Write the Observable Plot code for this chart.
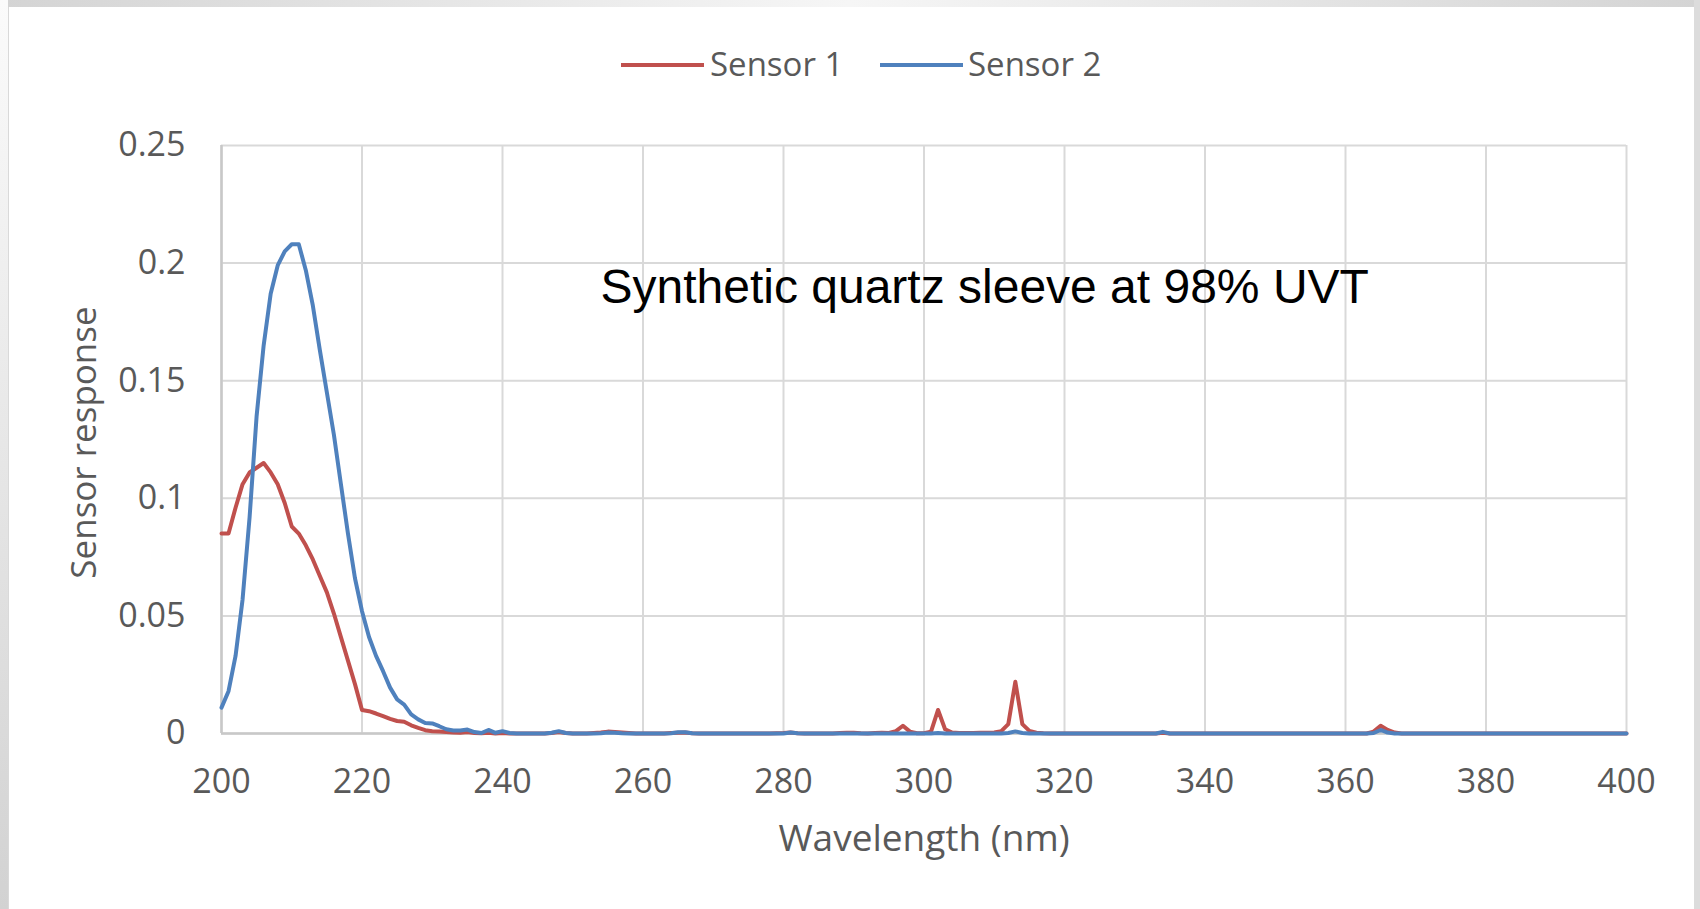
<!DOCTYPE html>
<html>
<head>
<meta charset="utf-8">
<script src="https://cdn.jsdelivr.net/npm/d3@7"></script>
<script src="https://cdn.jsdelivr.net/npm/@observablehq/plot@0.6"></script>
<style>
  html, body { margin: 0; padding: 0; background: #ffffff; }
  body { width: 1700px; height: 909px; overflow: hidden; position: relative; font-family: "Open Sans", sans-serif; }
  #legend { position: relative; height: 110px; }
  .sw { position: absolute; height: 4px; width: 83px; top: 63px; }
  .lt { position: absolute; top: 46.5px; font-size: 33px; line-height: 33px; color: #595959; white-space: nowrap; }
  .frame { position: absolute; pointer-events: none; }
</style>
</head>
<body>
<div id="legend"></div>
<div id="chart"></div>
<div class="frame" style="left:0;top:0;width:1700px;height:7px;background:linear-gradient(to right,#d4d4d4,#f6f6f6 50%,#d4d4d4);"></div>
<div class="frame" style="left:0;top:0;width:8px;height:909px;background:linear-gradient(to bottom,#fbfbfb,#d2d2d2);"></div>
<div class="frame" style="left:8px;top:7px;width:1px;height:902px;background:#d9d9d9;"></div>
<div class="frame" style="left:1694px;top:0;width:6px;height:909px;background:#dcdcdc;"></div>
<script>
// ---- data ----
const seriesNames = ["Sensor 1", "Sensor 2"];
const seriesColors = ["#C0504D", "#4F81BD"];
const wavelengths = d3.range(200, 401); // nm, 1 nm steps
const sensor1 = [
  0.085, 0.085, 0.096, 0.106, 0.111, 0.113, 0.115, 0.111, 0.106, 0.098,
  0.088, 0.085, 0.080, 0.074, 0.067, 0.060, 0.051, 0.041, 0.031, 0.021,
  0.010, 0.0095, 0.0085, 0.0074, 0.0062, 0.0053, 0.0050, 0.0035, 0.0024, 0.0014,
  0.0010, 0.0008, 0.0006, 0.0004, 0.0003, 0.0006, 0.0002, 0.0001, 0.0003, 0,
  0.0002, 0, 0, 0, 0, 0, 0, 0.0002, 0.0006, 0.0002,
  0, 0, 0, 0.0002, 0.0004, 0.0008, 0.0006, 0.0004, 0.0002, 0,
  0, 0, 0, 0, 0.0002, 0.0003, 0.0004, 0.0001, 0, 0,
  0, 0, 0, 0, 0, 0, 0, 0, 0, 0.0001,
  0.0002, 0.0004, 0.0001, 0, 0, 0, 0, 0, 0.0002, 0.0003,
  0.0003, 0.0001, 0, 0.0002, 0.0003, 0.0002, 0.0010, 0.0033, 0.0008, 0.0001,
  0.0001, 0.0008, 0.0100, 0.0018, 0.0004, 0.0002, 0.0002, 0.0002, 0.0003, 0.0003,
  0.0004, 0.0010, 0.0040, 0.0220, 0.0040, 0.0011, 0.0003, 0.0001, 0, 0,
  0, 0, 0, 0, 0, 0, 0, 0, 0, 0,
  0, 0, 0, 0, 0.0003, 0, 0, 0, 0, 0,
  0, 0, 0, 0, 0, 0, 0, 0, 0, 0,
  0, 0, 0, 0, 0, 0, 0, 0, 0, 0,
  0, 0, 0, 0, 0.0008, 0.0033, 0.0015, 0.0004, 0, 0,
  0, 0, 0, 0, 0, 0, 0, 0, 0, 0,
  0, 0, 0, 0, 0, 0, 0, 0, 0, 0,
  0, 0, 0, 0, 0, 0, 0, 0, 0, 0,
  0
];
const sensor2 = [
  0.011, 0.018, 0.033, 0.057, 0.092, 0.135, 0.165, 0.187, 0.199, 0.205,
  0.208, 0.208, 0.197, 0.182, 0.163, 0.145, 0.127, 0.106, 0.085, 0.066,
  0.052, 0.041, 0.033, 0.0265, 0.0195, 0.0145, 0.0123, 0.0081, 0.0060, 0.0045,
  0.0043, 0.0031, 0.0018, 0.0013, 0.0013, 0.0017, 0.0006, 0.0002, 0.0015, 0.0003,
  0.0010, 0.0002, 0, 0, 0, 0, 0, 0.0003, 0.0010, 0.0002,
  0, 0, 0, 0, 0.0001, 0.0004, 0.0003, 0.0001, 0, 0,
  0, 0, 0, 0, 0.0001, 0.0005, 0.0005, 0.0001, 0, 0,
  0, 0, 0, 0, 0, 0, 0, 0, 0, 0,
  0, 0.0004, 0.0001, 0, 0, 0, 0, 0, 0, 0,
  0, 0, 0, 0, 0, 0, 0, 0, 0, 0,
  0, 0, 0.0002, 0, 0, 0, 0, 0, 0, 0,
  0, 0, 0.0002, 0.0009, 0.0002, 0, 0, 0, 0, 0,
  0, 0, 0, 0, 0, 0, 0, 0, 0, 0,
  0, 0, 0, 0, 0.0007, 0, 0, 0, 0, 0,
  0, 0, 0, 0, 0, 0, 0, 0, 0, 0,
  0, 0, 0, 0, 0, 0, 0, 0, 0, 0,
  0, 0, 0, 0, 0.0002, 0.0015, 0.0004, 0, 0, 0,
  0, 0, 0, 0, 0, 0, 0, 0, 0, 0,
  0, 0, 0, 0, 0, 0, 0, 0, 0, 0,
  0, 0, 0, 0, 0, 0, 0, 0, 0, 0,
  0
];
const xTicks = [200, 220, 240, 260, 280, 300, 320, 340, 360, 380, 400];
const yTicks = [0, 0.05, 0.1, 0.15, 0.2, 0.25];
const xTitle = "Wavelength (nm)";
const yTitle = "Sensor response";
const annotation = "Synthetic quartz sleeve at 98% UVT";

// ---- build ----
const series = [sensor1, sensor2].map((vals, k) =>
  wavelengths.map((w, i) => ({wavelength: w, value: vals[i], series: seriesNames[k]})));

// legend
const legend = document.getElementById("legend");
const legendPos = [{sw: 621, tx: 710}, {sw: 880, tx: 968}];
seriesNames.forEach((name, k) => {
  const sw = document.createElement("div");
  sw.className = "sw";
  sw.style.left = legendPos[k].sw + "px";
  sw.style.background = seriesColors[k];
  legend.appendChild(sw);
  const t = document.createElement("div");
  t.className = "lt";
  t.style.left = legendPos[k].tx + "px";
  t.textContent = name;
  legend.appendChild(t);
});

const chart = Plot.plot({
  width: 1700,
  height: 799,
  marginLeft: 221,
  marginRight: 74,
  marginTop: 35,
  marginBottom: 176,
  x: {domain: [200, 400], label: null},
  y: {domain: [0, 0.25], label: null},
  style: {fontFamily: "'Open Sans', sans-serif", fontSize: "34px", color: "#595959", background: "transparent", overflow: "visible"},
  marks: [
    Plot.gridX(xTicks, {stroke: "#d9d9d9", strokeOpacity: 1, strokeWidth: 2}),
    Plot.gridY(yTicks, {stroke: "#d9d9d9", strokeOpacity: 1, strokeWidth: 2}),
    Plot.ruleX([200], {stroke: "#c8c8c8", strokeWidth: 2.5}),
    Plot.ruleY([0], {stroke: "#c8c8c8", strokeWidth: 2.5}),
    Plot.axisX(xTicks, {tickSize: 0, tickPadding: 35, fontSize: 34, label: null}),
    Plot.axisY(yTicks, {tickSize: 0, tickPadding: 36, fontSize: 34, label: null, tickFormat: d3.format("")}),
    Plot.line(series[0], {x: "wavelength", y: "value", stroke: seriesColors[0], strokeWidth: 4, strokeLinejoin: "round", strokeLinecap: "round"}),
    Plot.line(series[1], {x: "wavelength", y: "value", stroke: seriesColors[1], strokeWidth: 4, strokeLinejoin: "round", strokeLinecap: "round"}),
    Plot.text([xTitle], {text: d => d, frameAnchor: "bottom", textAnchor: "middle", dy: 117, fontSize: 37, fill: "#595959"}),
    Plot.text([yTitle], {text: d => d, frameAnchor: "left", textAnchor: "middle", rotate: -90, dx: -137, dy: 3, fontSize: 35, fill: "#595959"}),
    Plot.text([annotation], {text: d => d, frameAnchor: "top-left", textAnchor: "start", lineAnchor: "bottom", dx: 379, dy: 157, fontSize: 48, fontFamily: "'Liberation Sans', Arial, sans-serif", fill: "#000000"})
  ]
});
document.getElementById("chart").appendChild(chart);
</script>
</body>
</html>
